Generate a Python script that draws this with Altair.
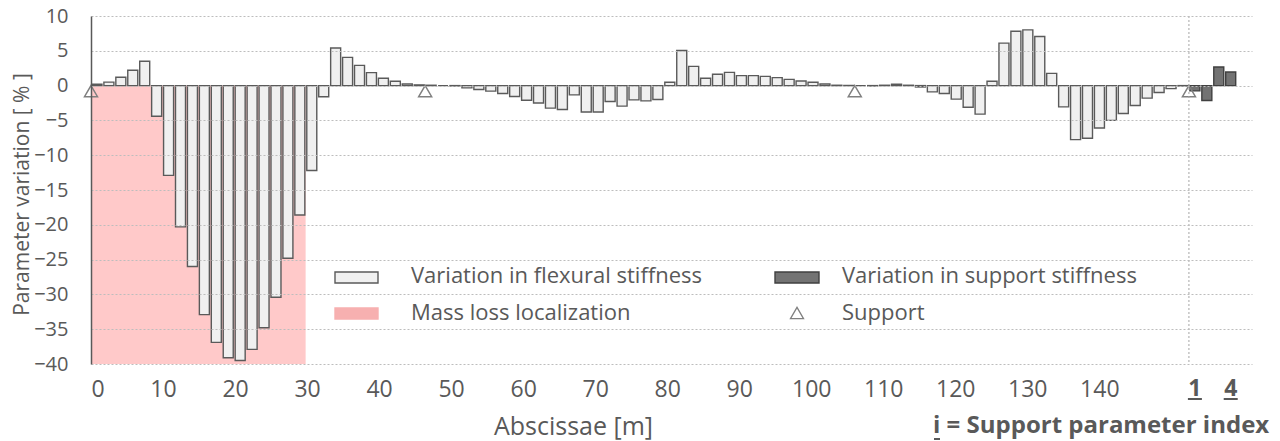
import altair as alt
import pandas as pd

# Flexural stiffness variation per beam element (left to right), in %
flex_values = [0.2, 0.5, 1.2, 2.2, 3.5, -4.4, -12.9, -20.3, -26.0, -32.9,
               -36.9, -39.1, -39.5, -37.9, -34.8, -30.4, -24.8, -18.6, -12.2, -1.6,
               5.4, 4.05, 2.9, 1.86, 1.05, 0.62, 0.24, 0.1,
               0.05, 0.0, -0.05, -0.33, -0.57, -0.8, -1.14, -1.57, -2.1, -2.5,
               -3.24, -3.43, -1.33, -3.8, -3.8, -2.29, -2.95, -2.05, -2.19, -2.0,
               0.48, 5.05, 2.76, 1.05, 1.62, 1.9, 1.43, 1.43, 1.33, 1.14,
               0.9, 0.67, 0.48, 0.24, 0.05, 0.02,
               0.0, -0.05, 0.05, 0.2, 0.05, -0.2, -0.9, -1.14, -1.95, -3.1,
               -4.1, 0.62, 6.1, 7.8, 8.0, 7.05, 1.76, -3.05, -7.76, -7.57,
               -6.1, -5.0, -4.0, -2.86, -1.8, -1.0, -0.43, -0.05]
# Support stiffness variation, parameters 1..4, in %
support_params = [1, 2, 3, 4]
support_values = [-0.76, -2.14, 2.67, 1.95]
support_labels = ['1', '', '', '4']
# supports located at these element boundaries
support_elems = [0, 28, 64, 92]
elem_len = 1.657  # m
mass_loss = [0, 29.8]  # m
x_ticks = list(range(0, 141, 10))
y_ticks = list(range(-40, 11, 5))

TXT = '#595959'
FONT = 'Open Sans'

flex = pd.DataFrame({'elem': range(1, len(flex_values) + 1), 'value': flex_values})
flex['xc'] = (flex['elem'] - 0.5) * elem_len

n_el = len(flex_values)
supp = pd.DataFrame({'param': support_params, 'value': support_values, 'label': support_labels})
supp['xc'] = (n_el + supp['param'] - 0.5) * elem_len

supports = pd.DataFrame({'x': [e * elem_len for e in support_elems]})
one = pd.DataFrame({'k': [0]})

x_scale = alt.Scale(domain=[0, 161.2], nice=False, zero=False, padding=0)
y_scale = alt.Scale(domain=[-40, 10], nice=False, padding=0)

x_axis = alt.Axis(values=x_ticks, title='Abscissae [m]', grid=False, domain=False,
                  ticks=False, tickSize=0, labelFontSize=23, labelColor=TXT,
                  labelBaseline='middle', labelPadding=25, labelFont=FONT,
                  titleFontSize=25, titleFontWeight='normal', titleColor=TXT, titleFont=FONT,
                  titleX=482, titleY=62, titleBaseline='middle', titleAlign='center')
y_axis = alt.Axis(values=y_ticks, title='Parameter variation [ % ]', grid=True,
                  gridColor='#BDBDBD', gridDash=[2, 2], gridWidth=1,
                  domain=True, domainColor=TXT, domainWidth=1.5,
                  ticks=False, tickSize=0, labelFontSize=20, labelColor=TXT,
                  labelPadding=23, labelFont=FONT,
                  titleFontSize=21, titleFontWeight='normal', titleColor=TXT, titleFont=FONT,
                  titleX=-69, titleY=178, titleBaseline='middle', titleAlign='center',
                  zindex=1)

X = lambda f: alt.X(f, scale=x_scale, axis=x_axis)

# Mass loss area
pink = alt.Chart(pd.DataFrame({'x0': [mass_loss[0]], 'x1': [mass_loss[1]]})).mark_rect(
    color='#FFC9C9'
).encode(
    x=X('x0:Q'),
    x2='x1:Q',
    y=alt.Y(datum=0, type='quantitative', scale=y_scale, axis=y_axis),
    y2=alt.datum(-40)
)

bars = alt.Chart(flex).mark_bar(size=10, fill='#F0F0F0', stroke='#5A5A5A', strokeWidth=1.4).encode(
    x=X('xc:Q'),
    y=alt.Y('value:Q', scale=y_scale, axis=y_axis),
    y2=alt.datum(0)
)

supp_bars = alt.Chart(supp).mark_bar(size=10, fill='#737373', stroke='#404040', strokeWidth=1.4).encode(
    x=X('xc:Q'),
    y=alt.Y('value:Q', scale=y_scale, axis=y_axis),
    y2=alt.datum(0)
)

# Support triangles, apex on the zero line
tri = alt.Chart(supports).mark_point(
    shape='M0,0L1,1.7L-1,1.7Z', size=169, filled=False, color='#808080', strokeWidth=1.5, opacity=1
).encode(
    x=X('x:Q'),
    y=alt.Y(datum=0, type='quantitative', scale=y_scale, axis=y_axis)
)

sep = alt.Chart(supports.tail(1)).mark_rule(color='#A6A6A6', strokeDash=[2, 2], strokeWidth=1).encode(
    x=X('x:Q'),
    y=alt.Y(datum=10, type='quantitative', scale=y_scale, axis=y_axis),
    y2=alt.datum(-40)
)

# support parameter index labels under the axis
idx_text = alt.Chart(supp).mark_text(fontSize=23, fontWeight='bold', color=TXT, baseline='middle', font=FONT).encode(
    x=X('xc:Q'),
    y=alt.value(373),
    text='label:N'
)
idx_line = alt.Chart(supp).transform_filter(alt.datum.label != '').mark_rule(
    color=TXT, strokeWidth=2, xOffset=-7, x2Offset=7
).encode(
    x=X('xc:Q'),
    x2='xc:Q',
    y=alt.value(383)
)

note = alt.Chart(one).mark_text(align='left', baseline='middle', fontSize=24, fontWeight='bold',
                                color=TXT, font=FONT).encode(
    x=alt.value(842), y=alt.value(410), text=alt.value('i = Support parameter index')
)
note_line = alt.Chart(one).mark_rule(color=TXT, strokeWidth=2).encode(
    x=alt.value(843), x2=alt.value(849), y=alt.value(423)
)

# Legend (drawn by hand inside the plot)
leg_rects = pd.DataFrame({
    'x': [244, 244, 684], 'x2': [287, 287, 728],
    'y': [256, 292, 256], 'y2': [267, 303, 267],
    'fill': ['#F0F0F0', '#F7B0B0', '#737373'],
    'stroke': ['#5A5A5A', '#F7B0B0', '#404040'],
})
leg_r = alt.Chart(leg_rects).mark_rect(strokeWidth=1.4).encode(
    x=alt.X('x:Q', scale=None), x2='x2:Q',
    y=alt.Y('y:Q', scale=None), y2='y2:Q',
    fill=alt.Fill('fill:N', scale=None),
    stroke=alt.Stroke('stroke:N', scale=None)
)
leg_labels = pd.DataFrame({
    'x': [320, 320, 751, 751], 'y': [260, 297, 260, 297],
    'label': ['Variation in flexural stiffness', 'Mass loss localization',
              'Variation in support stiffness', 'Support'],
})
leg_t = alt.Chart(leg_labels).mark_text(align='left', baseline='middle', fontSize=22, color=TXT, font=FONT).encode(
    x=alt.X('x:Q', scale=None), y=alt.Y('y:Q', scale=None), text='label:N'
)
leg_tri = alt.Chart(one).mark_point(shape='triangle-up', size=170, filled=False, color='#808080',
                                    strokeWidth=1.3, opacity=1).encode(
    x=alt.value(706), y=alt.value(297)
)

chart = alt.layer(
    pink, bars, supp_bars, tri, sep, idx_text, idx_line, note, note_line, leg_r, leg_t, leg_tri
).properties(
    width=1161, height=348,
    autosize=alt.AutoSizeParams(type='none'),
    padding={'left': 83, 'top': 8, 'right': 20, 'bottom': 82},
    background='white'
).configure(font=FONT).configure_view(stroke=None)

chart.save("out.html", embed_options={"renderer": "svg", "actions": False})
